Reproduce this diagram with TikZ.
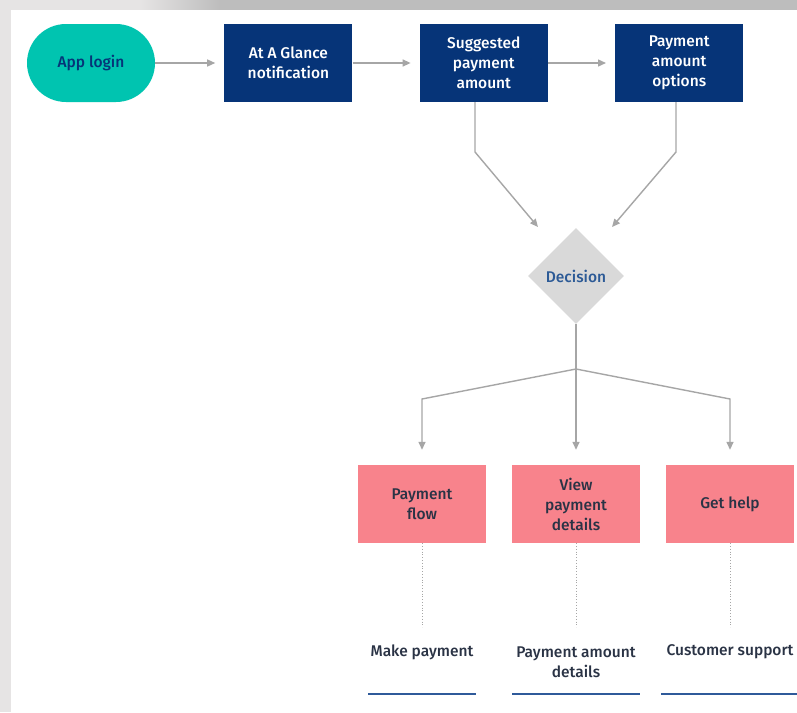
\documentclass[tikz,border=0pt]{standalone}
\usepackage{fontspec}
\setmainfont{Fira Sans Medium}
\usetikzlibrary{shapes.geometric, positioning, arrows.meta}
\definecolor{logincol}{HTML}{00C4B0}
\definecolor{navycol}{HTML}{063478}
\definecolor{deccol}{HTML}{D9D9D9}
\definecolor{deccolt}{HTML}{2C5A96}
\definecolor{pinkcol}{HTML}{F8838C}
\definecolor{textcol}{HTML}{2A3345}
\definecolor{linecol}{HTML}{A6A6A6}
\definecolor{ulcol}{HTML}{2F5A9A}
\definecolor{pagecol}{HTML}{E6E4E4}
\definecolor{barcol}{HTML}{BDBDBD}

\begin{document}
\begin{tikzpicture}[x=1pt,y=-1pt,node distance=67pt,
    font=\fontsize{15.5}{20}\selectfont,
    every node/.style={align=center,inner sep=0pt},
    box/.style={rectangle,minimum width=128pt,minimum height=78pt},
    startbox/.style={box,fill=logincol,text=navycol,rounded corners=39pt},
    navybox/.style={box,fill=navycol,text=white},
    pinkbox/.style={box,fill=pinkcol,text=textcol},
    decbox/.style={diamond,aspect=1,minimum size=96pt,fill=deccol,text=deccolt},
    outcome/.style={text=textcol},
    flow/.style={draw=linecol,line width=1.4pt,-{Triangle[length=8pt,width=7pt]}},
    link/.style={draw=linecol,line width=1.4pt},
    dots/.style={draw=linecol,line width=0.8pt,dotted},
    uline/.style={draw=ulcol,line width=2.4pt}]

    % page and panel
    \useasboundingbox (0,0) rectangle (797,712);
    \fill[pagecol] (0,0) rectangle (797,712);
    \shade[left color=pagecol,right color=barcol] (140,0) rectangle (220,10);
    \fill[barcol] (220,0) rectangle (797,10);
    \fill[white] (11,10) rectangle (797,712);

    % top row
    \node[startbox] (login) at (91,63) {App login};
    \node[navybox] (glance) [right=69pt of login] {At A Glance\\notification};
    \node[navybox] (suggest) [right=of glance] {Suggested\\payment\\amount};
    \node[navybox] (options) [right=of suggest] {Payment\\amount\\options};

    \path[flow,shorten >=9pt] (login) -- (glance);
    \path[flow,shorten >=9pt] (glance) -- (suggest);
    \path[flow,shorten >=9pt] (suggest) -- (options);

    % decision
    \node[decbox] (dec) at (576,276) {Decision};
    \coordinate (inl) at (538,227);
    \coordinate (inr) at (612,227);
    \draw[flow] (suggest.south -| 475,0) -- (475,152) -- (inl);
    \draw[flow] (options.south -| 676,0) -- (676,152) -- (inr);

    % branches
    \node[pinkbox] (payflow) at (422,504) {Payment\\flow};
    \node[pinkbox] (viewpay) at (576,504) {View\\payment\\details};
    \node[pinkbox] (gethelp) at (730,504) {Get help};
    \coordinate (fork) at (576,369);
    \draw[link] (dec.south) -- (fork);
    \draw[flow,shorten >=15pt] (fork) -- (payflow.north |- 0,399) -- (payflow.north);
    \draw[flow,shorten >=15pt] (fork) -- (viewpay.north);
    \draw[flow,shorten >=15pt] (fork) -- (gethelp.north |- 0,399) -- (gethelp.north);

    % outcomes
    \node[outcome] (makepay) at (422,652) {Make payment};
    \node[outcome] (amtdet) at (576,662) {Payment amount\\details};
    \node[outcome] (support) at (730,652) {Customer support};
    \draw[dots] (payflow.south) -- ++(0,84);
    \draw[dots] (viewpay.south) -- ++(0,84);
    \draw[dots] (gethelp.south) -- ++(0,84);
    \draw[uline] (368,694) -- (476,694);
    \draw[uline] (512,694) -- (640,694);
    \draw[uline] (661,694) -- (797,694);
\end{tikzpicture}
\end{document}
